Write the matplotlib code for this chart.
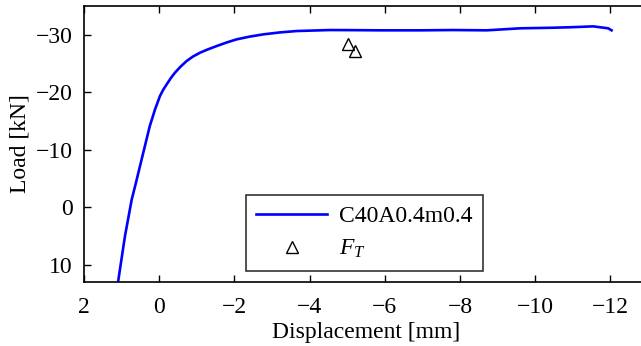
import matplotlib
matplotlib.use("Agg")
import matplotlib.pyplot as plt

plt.rcParams["font.family"] = ["Liberation Serif", "DejaVu Serif"]
plt.rcParams["mathtext.fontset"] = "custom"
plt.rcParams["mathtext.rm"] = "Liberation Serif"
plt.rcParams["mathtext.it"] = "Liberation Serif:italic"

# load-displacement curve
disp = [1.09, 0.91, 0.73, 0.64, 0.51, 0.38, 0.25, 0.11, -0.02, -0.11, -0.20,
        -0.31, -0.42, -0.57, -0.73, -0.90, -1.09, -1.30, -1.53, -1.80, -2.06,
        -2.40, -2.77, -3.20, -3.66, -4.54, -5.20, -5.87, -6.94, -7.81, -8.71,
        -9.60, -10.47, -11.00, -11.54, -11.94, -12.03]
load = [12.85, 5.03, -1.36, -3.67, -7.15, -10.63, -14.10, -17.01, -19.32,
        -20.45, -21.36, -22.45, -23.39, -24.45, -25.41, -26.20, -26.87,
        -27.45, -28.02, -28.65, -29.18, -29.65, -30.05, -30.38, -30.63,
        -30.80, -30.78, -30.75, -30.75, -30.80, -30.75, -31.10, -31.20,
        -31.30, -31.44, -31.10, -30.75]

# F_T markers
ft_disp = [-5.03, -5.22]
ft_load = [-28.43, -27.15]

xticks = [2, 0, -2, -4, -6, -8, -10, -12]
yticks = [10, 0, -10, -20, -30]

fs = 17
fig = plt.figure(figsize=(6.41, 3.46), dpi=100)
ax = fig.add_axes([0.131, 0.185, 0.880, 0.798])

ax.plot(disp, load, "-", color="#0000ff", lw=1.9, label="C40A0.4m0.4")
ax.plot(ft_disp, ft_load, "^", mfc="none", mec="k", mew=1.0, ms=9,
        linestyle="none", label=r"$F_T$")

ax.set_xlim(2, -13)
ax.set_ylim(13, -35)
ax.set_xticks(xticks)
ax.set_yticks(yticks)
ax.set_xticklabels(["%d" % t if t >= 0 else "\u2212%d" % -t for t in xticks])
ax.set_yticklabels(["%d" % t if t >= 0 else "\u2212%d" % -t for t in yticks])
ax.tick_params(direction="in", top=True, right=True, length=5, width=1,
               labelsize=fs)
ax.tick_params(axis="x", pad=11)
ax.tick_params(axis="y", pad=8)
for s in ax.spines.values():
    s.set_linewidth(1.2)

ax.set_xlabel("Displacement [mm]", fontsize=fs, labelpad=3)
ax.set_ylabel("Load [kN]", fontsize=fs, labelpad=4)

leg = ax.legend(loc="lower left", bbox_to_anchor=(0.287, 0.04), fontsize=fs,
                frameon=True, fancybox=False, edgecolor="k", handlelength=3.0,
                borderpad=0.45, labelspacing=0.45, handletextpad=0.5,
                borderaxespad=0)
leg.get_frame().set_linewidth(1.2)

fig.savefig("out.png", dpi=100)
